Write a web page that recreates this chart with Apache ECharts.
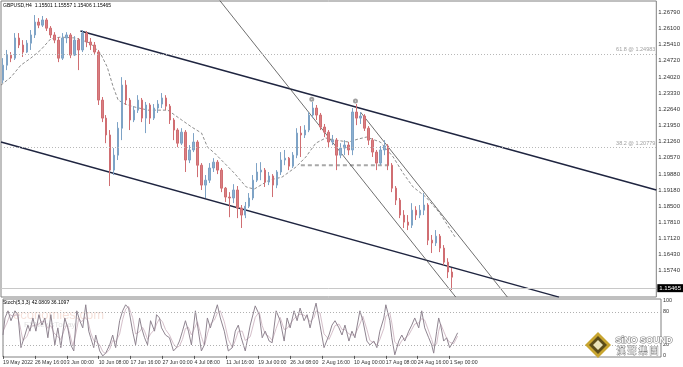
<!DOCTYPE html>
<html><head><meta charset="utf-8">
<script src="https://cdn.jsdelivr.net/npm/echarts@6/dist/echarts.min.js"></script>
<style>html,body{margin:0;padding:0;background:#fff}#c{width:683px;height:367px}</style>
</head><body><div id="c"></div>
<script>
// ---- DATA ----
const title = 'GBPUSD,H4  1.15501 1.15557 1.15406 1.15465';
const stochTitle = 'Stoch(5,3,3) 42.0809 36.1097';
const priceTicks = [1.26790,1.26100,1.25410,1.24720,1.24020,1.23330,1.22640,1.21950,1.21260,1.20570,1.19880,1.19180,1.18500,1.17810,1.17120,1.16430,1.15740,1.15050];
const stochTicks = [0,20,80,100];
const dateBars = [0,32,64,96,128,160,192,224,256,288,320,352,384,416,448];
const dateLabels = ['19 May 2022','26 May 16:00','3 Jun 00:00','10 Jun 08:00','17 Jun 16:00','27 Jun 00:00','4 Jul 08:00','11 Jul 16:00','19 Jul 00:00','26 Jul 08:00','2 Aug 16:00','10 Aug 00:00','17 Aug 08:00','24 Aug 16:00','1 Sep 00:00'];
const lastPrice = 1.15465;
const fibLevels = [1.24983, 1.20779];
const fibLabels = ['61.8 @ 1.24983', '38.2 @ 1.20779'];

// candles (each = 4 H4 bars)
const candleOpen = [1.2388,1.2452,1.2495,1.2482,1.2568,1.2538,1.2508,1.2546,1.2581,1.2636,
1.2623,1.2645,1.2610,1.2581,1.2559,1.2482,1.2568,1.2581,1.2495,1.2559,
1.2517,1.2589,1.2551,1.2538,1.2508,1.2303,1.2226,1.2154,1.2004,1.2068,
1.2183,1.2367,1.2303,1.2218,1.2260,1.2303,1.2226,1.2282,1.2226,1.2269,
1.2286,1.2312,1.2277,1.2218,1.2175,1.2119,1.2166,1.2047,1.2090,1.2124,
1.2025,1.1940,1.1961,1.2013,1.2038,1.2004,1.1927,1.1889,1.1885,1.1919,
1.1842,1.1812,1.1850,1.1885,1.1961,1.1996,1.2004,1.1953,1.1979,1.1940,
1.1996,1.2047,1.2055,1.2021,1.2068,1.2162,1.2154,1.2175,1.2239,1.2269,
1.2239,1.2188,1.2166,1.2124,1.2132,1.2068,1.2098,1.2111,1.2090,1.2252,
1.2226,1.2235,1.2183,1.2132,1.2081,1.2034,1.2090,1.2107,1.2025,1.1927,
1.1876,1.1812,1.1782,1.1769,1.1833,1.1812,1.1833,1.1855,1.1705,1.1693,
1.1722,1.1671,1.1611,1.1569];
const candleClose = [1.2452,1.2495,1.2482,1.2568,1.2538,1.2508,1.2546,1.2581,1.2636,1.2623,
1.2645,1.2610,1.2581,1.2559,1.2482,1.2568,1.2581,1.2495,1.2559,1.2517,
1.2589,1.2551,1.2538,1.2508,1.2303,1.2226,1.2154,1.2004,1.2068,1.2183,
1.2367,1.2303,1.2218,1.2260,1.2303,1.2226,1.2282,1.2226,1.2269,1.2286,
1.2312,1.2277,1.2218,1.2175,1.2119,1.2166,1.2047,1.2090,1.2124,1.2025,
1.1940,1.1961,1.2013,1.2038,1.2004,1.1927,1.1889,1.1885,1.1919,1.1842,
1.1812,1.1850,1.1885,1.1961,1.1996,1.2004,1.1953,1.1979,1.1940,1.1996,
1.2047,1.2055,1.2021,1.2068,1.2162,1.2154,1.2175,1.2239,1.2269,1.2239,
1.2188,1.2166,1.2124,1.2132,1.2068,1.2098,1.2111,1.2090,1.2252,1.2226,
1.2235,1.2183,1.2132,1.2081,1.2034,1.2090,1.2107,1.2025,1.1927,1.1876,
1.1812,1.1782,1.1769,1.1833,1.1812,1.1833,1.1855,1.1705,1.1693,1.1722,
1.1671,1.1611,1.1569,1.1547];
const candleHigh = [1.2482,1.2517,1.2508,1.2589,1.2589,1.2559,1.2559,1.2602,1.2666,1.2653,
1.2662,1.2653,1.2619,1.2593,1.2572,1.2589,1.2593,1.2589,1.2576,1.2568,
1.2602,1.2598,1.2568,1.2551,1.2517,1.2316,1.2239,1.2175,1.2098,1.2209,
1.2401,1.2388,1.2312,1.2277,1.2324,1.2312,1.2295,1.2290,1.2286,1.2303,
1.2333,1.2324,1.2286,1.2226,1.2183,1.2183,1.2175,1.2111,1.2162,1.2132,
1.2034,1.1983,1.2034,1.2055,1.2047,1.2013,1.1932,1.1910,1.1944,1.1936,
1.1855,1.1868,1.1906,1.1983,1.2034,1.2038,1.2013,1.1996,1.1987,1.2004,
1.2081,1.2090,1.2060,1.2081,1.2183,1.2192,1.2196,1.2252,1.2295,1.2282,
1.2248,1.2201,1.2175,1.2154,1.2141,1.2119,1.2132,1.2124,1.2269,1.2286,
1.2252,1.2243,1.2192,1.2141,1.2090,1.2107,1.2132,1.2115,1.2034,1.1936,
1.1885,1.1833,1.1812,1.1863,1.1850,1.1855,1.1906,1.1863,1.1727,1.1748,
1.1731,1.1684,1.1628,1.1586];
const candleLow = [1.2376,1.2431,1.2465,1.2474,1.2525,1.2487,1.2504,1.2517,1.2568,1.2610,
1.2615,1.2598,1.2568,1.2546,1.2465,1.2474,1.2546,1.2482,1.2491,1.2431,
1.2508,1.2529,1.2517,1.2495,1.2282,1.2209,1.2119,1.1936,1.1983,1.2047,
1.2132,1.2282,1.2175,1.2209,1.2248,1.2209,1.2162,1.2201,1.2218,1.2248,
1.2269,1.2260,1.2201,1.2132,1.2102,1.2111,1.1996,1.2034,1.2081,1.1974,
1.1919,1.1885,1.1949,1.1996,1.1987,1.1910,1.1868,1.1803,1.1863,1.1799,
1.1757,1.1799,1.1842,1.1876,1.1953,1.1961,1.1932,1.1940,1.1889,1.1927,
1.1983,1.2025,1.2004,1.2013,1.2055,1.2060,1.2141,1.2166,1.2226,1.2218,
1.2175,1.2145,1.2102,1.2111,1.2004,1.2055,1.2068,1.2068,1.2068,1.2196,
1.2201,1.2171,1.2111,1.2060,1.2004,1.2025,1.2068,1.2004,1.1910,1.1855,
1.1799,1.1757,1.1748,1.1757,1.1791,1.1799,1.1812,1.1684,1.1650,1.1680,
1.1654,1.1598,1.1543,1.1492];

// moving average (dashed), [H4 bar, price]
const maLine = [[0,1.2367],[10,1.2401],[20,1.2452],[30,1.2482],[40,1.2517],[50,1.2564],[60,1.2572],[75,1.2568],[90,1.2546],[100,1.2504],[107,1.2444],[113,1.2359],[118,1.2303],[125,1.2286],[135,1.2273],[148,1.2260],[168,1.2260],[182,1.2218],[192,1.2188],[202,1.2162],[208,1.2102],[215,1.2077],[225,1.2034],[235,1.1991],[247,1.1932],[255,1.1923],[270,1.1961],[283,1.1974],[297,1.2017],[307,1.2060],[317,1.2119],[327,1.2141],[337,1.2132],[350,1.2124],[360,1.2137],[368,1.2145],[382,1.2124],[395,1.2060],[405,1.1991],[415,1.1932],[428,1.1889],[442,1.1820],[458,1.1714]];

// trend lines, [H4 bar, price]
const channelUpper = [[80,1.2598],[660,1.1919]];
const channelLower = [[0,1.2124],[562,1.1462]];
const steepLineA = [[220,1.2730],[458,1.1462]];
const steepLineB = [[362,1.2252],[510,1.1462]];
const supportSegment = [[302,1.2025],[393,1.2025]];
const peakMarks = [[313,1.2307],[357,1.2299]];

// stochastic, [H4 bar, value]
const stochMain = [[0,38],[2,69],[5,82],[8,64],[12,82],[15,75],[18,15],[22,38],[25,56],[27,45],[30,69],[33,45],[36,75],[39,56],[42,69],[45,33],[48,75],[52,20],[55,51],[58,15],[62,69],[65,51],[68,20],[71,9],[74,82],[77,64],[80,51],[83,93],[86,45],[88,33],[91,15],[93,38],[97,9],[100,0],[103,5],[107,20],[110,38],[113,15],[117,64],[120,82],[123,93],[126,87],[130,45],[133,20],[137,69],[139,51],[142,33],[145,20],[148,64],[152,45],[154,75],[157,69],[159,51],[163,38],[167,33],[171,9],[174,15],[177,27],[180,45],[183,64],[186,45],[189,20],[193,82],[196,45],[199,9],[202,20],[205,69],[208,51],[212,75],[215,93],[218,69],[222,45],[226,9],[230,15],[233,45],[236,56],[239,33],[243,9],[248,56],[253,91],[257,75],[260,33],[263,45],[267,27],[270,24],[274,82],[278,64],[282,27],[285,69],[288,51],[292,82],[295,64],[298,87],[302,64],[305,75],[308,51],[312,82],[314,96],[318,56],[322,15],[327,38],[330,56],[333,64],[337,51],[340,38],[343,56],[347,27],[350,45],[353,33],[358,82],[361,64],[365,27],[368,20],[372,27],[375,15],[378,45],[382,69],[384,93],[388,64],[390,33],[393,2],[397,27],[400,38],[403,27],[407,45],[410,56],[413,69],[417,51],[420,82],[423,51],[427,33],[430,20],[432,5],[435,45],[437,69],[439,56],[442,27],[445,33],[448,15],[452,27],[456,42]];
const stochSignal = [[0,45],[4,60],[7,75],[10,72],[14,76],[17,55],[20,28],[24,35],[27,50],[30,55],[33,56],[36,58],[39,63],[42,62],[45,50],[48,55],[51,42],[55,35],[58,30],[61,45],[64,58],[67,40],[70,18],[73,40],[76,68],[79,62],[82,70],[85,65],[88,42],[91,28],[94,25],[97,20],[100,8],[103,4],[107,12],[110,28],[113,26],[117,40],[120,66],[123,85],[126,90],[130,70],[133,40],[137,44],[140,52],[142,45],[145,30],[148,40],[152,48],[154,58],[157,68],[160,62],[163,48],[167,38],[171,22],[174,15],[177,18],[180,30],[183,50],[186,52],[189,38],[192,50],[195,62],[199,35],[202,18],[205,40],[208,58],[212,65],[215,78],[218,82],[222,62],[226,30],[230,15],[233,28],[236,45],[240,45],[243,28],[248,35],[253,70],[257,80],[260,55],[263,40],[267,35],[270,28],[274,50],[278,70],[282,48],[285,50],[288,58],[292,68],[295,72],[298,76],[302,74],[305,70],[308,62],[312,70],[314,82],[318,78],[322,40],[327,30],[330,42],[333,55],[337,58],[340,48],[343,48],[347,40],[350,38],[353,38],[358,58],[361,72],[365,48],[368,28],[372,24],[375,20],[378,30],[382,50],[384,72],[388,78],[390,60],[393,25],[397,18],[400,28],[403,32],[407,38],[410,48],[413,58],[417,60],[420,68],[423,65],[427,45],[430,30],[432,18],[435,22],[437,45],[439,58],[442,45],[445,32],[448,25],[452,22],[456,36]];

// ---- CHART ----
const FONT = 'Liberation Sans';
const BARS_PER_CANDLE = 4;
const TOTAL_BARS = 660;
const nCats = TOTAL_BARS / BARS_PER_CANDLE;
const cats = [];
for (let i = 0; i < nCats; i++) cats.push(String(i));
const candleData = candleOpen.map((o, i) => [o, candleClose[i], candleLow[i], candleHigh[i]]);

const chart = echarts.init(document.getElementById('c'), null, {renderer: 'canvas'});

function lineSeries(data, color, width, type) {
  return {type: 'line', xAxisIndex: 1, yAxisIndex: 0, data: data, symbol: 'none', silent: true,
    lineStyle: {color: color, width: width, type: type || 'solid'}, animation: false, z: 3};
}

const option = {
  animation: false,
  backgroundColor: '#fff',
  textStyle: {fontFamily: FONT},
  grid: [
    {left: 1, top: 1, width: 660, height: 296, show: true, borderColor: '#808080', borderWidth: 1},
    {left: 1, top: 299, width: 660, height: 58, show: true, borderColor: '#808080', borderWidth: 1}
  ],
  xAxis: [
    {type: 'category', gridIndex: 0, data: cats, boundaryGap: true, show: false},
    {type: 'value', gridIndex: 0, min: 0, max: TOTAL_BARS, show: false},
    {type: 'value', gridIndex: 1, min: 0, max: TOTAL_BARS,
      axisLine: {show: false},
      splitLine: {show: false},
      axisTick: {show: true, customValues: dateBars, length: 3, lineStyle: {color: '#555'}},
      axisLabel: {customValues: dateBars, showMinLabel: true, hideOverlap: false, fontSize: 5.2, color: '#333', margin: 3, align: 'left', fontFamily: FONT,
        formatter: v => dateLabels[dateBars.indexOf(v)] || ''}}
  ],
  yAxis: [
    {type: 'value', gridIndex: 0, position: 'right', min: 1.14623, max: 1.27260, scale: true,
      axisLine: {show: false}, axisTick: {show: false}, splitLine: {show: false},
      axisLabel: {customValues: priceTicks, fontSize: 6, color: '#333', margin: 2, fontFamily: FONT,
        formatter: v => v.toFixed(5)}},
    {type: 'value', gridIndex: 1, position: 'right', min: -2, max: 103.5,
      axisLine: {show: false}, axisTick: {show: false}, splitLine: {show: false},
      axisLabel: {customValues: stochTicks, fontSize: 5.5, color: '#333', margin: 2, fontFamily: FONT}}
  ],
  series: [
    {type: 'candlestick', xAxisIndex: 0, yAxisIndex: 0, data: candleData, barMaxWidth: 3, z: 4,
      itemStyle: {color: '#8db0d0', color0: '#d97f82', borderColor: '#7ea3c6', borderColor0: '#d06e72', borderWidth: 1},
      markLine: {silent: true, symbol: ['none', 'none'], animation: false,
        data: [
          {yAxis: lastPrice, lineStyle: {color: '#c8c8c8', type: 'solid', width: 1},
            label: {show: true, position: 'end', distance: 1, formatter: lastPrice.toFixed(5), backgroundColor: '#000', color: '#fff', fontSize: 6, padding: [1, 2], fontFamily: FONT}},
          {yAxis: fibLevels[0], lineStyle: {color: '#b8b8b8', type: [1, 2], width: 1},
            label: {show: true, position: 'insideEndTop', distance: 1, formatter: fibLabels[0], color: '#a0a0a0', fontSize: 5.5, fontFamily: FONT}},
          {yAxis: fibLevels[1], lineStyle: {color: '#b8b8b8', type: [1, 2], width: 1},
            label: {show: true, position: 'insideEndTop', distance: 1, formatter: fibLabels[1], color: '#a0a0a0', fontSize: 5.5, fontFamily: FONT}}
        ]}},
    lineSeries(maLine, '#707070', 0.8, [3, 2]),
    lineSeries(supportSegment, '#a8a8a8', 2, [4, 3]),
    lineSeries(channelUpper, '#1f2540', 1.4),
    lineSeries(channelLower, '#1f2540', 1.4),
    lineSeries(steepLineA, '#4a4a4a', 0.8),
    lineSeries(steepLineB, '#4a4a4a', 0.8),
    {type: 'scatter', xAxisIndex: 1, yAxisIndex: 0, data: peakMarks, symbol: 'emptyCircle', symbolSize: 3,
      itemStyle: {color: '#888', borderColor: '#888'}, silent: true, z: 5},
    {type: 'line', xAxisIndex: 2, yAxisIndex: 1, data: stochSignal, symbol: 'none', silent: true,
      lineStyle: {color: '#d5bfca', width: 1},
      markLine: {silent: true, symbol: ['none', 'none'], label: {show: false},
        lineStyle: {color: '#b0b0b0', type: [1, 2], width: 1},
        data: [{yAxis: 20}, {yAxis: 80}]}},
    {type: 'line', xAxisIndex: 2, yAxisIndex: 1, data: stochMain, symbol: 'none', silent: true,
      lineStyle: {color: '#8f8490', width: 1}}
  ],
  graphic: [
    {type: 'text', left: 3, top: 3, z: 10, style: {text: title, fontSize: 5, fill: '#000', fontFamily: FONT}},
    {type: 'text', left: 3, top: 300, z: 10, style: {text: stochTitle, fontSize: 5, fill: '#000', fontFamily: FONT}},
    {type: 'text', left: 13, top: 309, z: 0, style: {text: 'economies.com', fontSize: 13, fill: 'rgba(230,170,150,0.35)', fontFamily: FONT}},
    {type: 'text', left: 24, top: 321, z: 0, style: {text: 'FXNewsToday', fontSize: 8, fill: 'rgba(150,150,150,0.3)', fontFamily: FONT}},
    {type: 'polygon', z: 20, shape: {points: [[598, 332], [611, 345], [598, 358], [585, 345]]}, style: {fill: '#c8a530'}},
    {type: 'polygon', z: 21, shape: {points: [[598, 336], [607, 345], [598, 354], [589, 345]]}, style: {fill: '#5c4d1a'}},
    {type: 'polygon', z: 22, shape: {points: [[598, 340], [603, 345], [598, 350], [593, 345]]}, style: {fill: '#e9e2b8'}},
    {type: 'text', left: 615, top: 335, z: 20, style: {text: 'SiNO SOUND', fontSize: 9, fontWeight: 'bold', fill: '#fff', stroke: '#8a8a8a', lineWidth: 1.2, fontFamily: FONT}},
    {type: 'text', left: 616, top: 346, z: 20, style: {text: '漢 聲 集 團', fontSize: 9, fill: '#fff', stroke: '#8a8a8a', lineWidth: 1, fontFamily: 'Noto Sans CJK TC'}}
  ]
};
chart.setOption(option);
</script>
</body></html>
